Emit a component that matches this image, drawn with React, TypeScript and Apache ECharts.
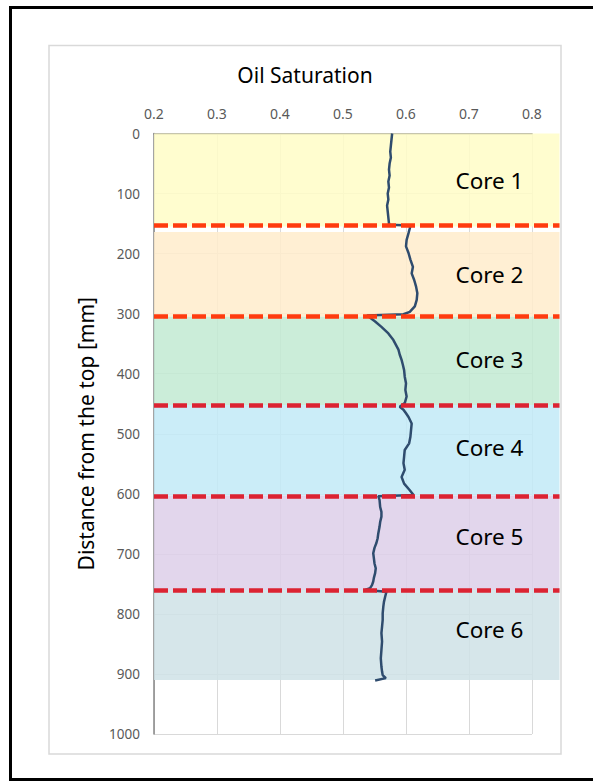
import React, { useEffect, useRef } from "react";
import * as echarts from "echarts";

const xTicks = [0.2, 0.3, 0.4, 0.5, 0.6, 0.7, 0.8];
const yTicks = [0, 100, 200, 300, 400, 500, 600, 700, 800, 900, 1000];

const coreNames = ["Core 1", "Core 2", "Core 3", "Core 4", "Core 5", "Core 6"];
const coreStart = [0, 164, 305, 452, 603, 760];
const coreEnd = [155, 305, 452, 603, 760, 910];
const coreColors = ["#FFFDC7", "#FFECCB", "#C2EAD2", "#C2EAF7", "#DDCFE9", "#CFE2E6"];

const boundaryDepths = [152, 304, 453, 604, 761];
const boundaryColors = ["#FF3B0F", "#FF3B0F", "#DC2332", "#DC2332", "#DC2332"];

const depth = [
  0, 10, 20, 30, 40, 50, 60, 70, 80, 90, 100, 110, 120, 130, 140, 150, 152,
  153, 158, 166, 177, 188, 199, 210, 222, 233, 244, 255, 266, 277, 288, 297, 301, 303,
  305, 313, 322, 333, 344, 352, 360, 368, 377, 385, 394, 405, 416, 427, 438, 449, 455,
  460, 466, 472, 483, 494, 505, 516, 527, 538, 549, 560, 572, 583, 594, 602, 604,
  610, 622, 630, 638, 647, 655, 666, 674, 682, 690, 699, 707, 716, 724, 732, 740, 746, 752, 757, 760, 763,
  771, 780, 788, 799, 810, 821, 832, 846, 860, 874, 888, 896, 902, 907, 911,
];

const saturation = [
  0.578, 0.577, 0.576, 0.575, 0.576, 0.574, 0.573, 0.574, 0.572, 0.573, 0.571, 0.572, 0.570, 0.571, 0.572, 0.573, 0.574,
  0.607, 0.606, 0.604, 0.601, 0.600, 0.604, 0.607, 0.611, 0.609, 0.613, 0.616, 0.618, 0.617, 0.614, 0.606, 0.596, 0.538,
  0.541, 0.551, 0.561, 0.572, 0.580, 0.584, 0.588, 0.590, 0.593, 0.595, 0.597, 0.598, 0.600, 0.599, 0.601, 0.598, 0.590,
  0.596, 0.600, 0.604, 0.609, 0.608, 0.607, 0.605, 0.598, 0.597, 0.596, 0.598, 0.593, 0.597, 0.606, 0.612, 0.556,
  0.558, 0.559, 0.561, 0.561, 0.559, 0.558, 0.556, 0.555, 0.553, 0.550, 0.548, 0.549, 0.550, 0.552, 0.551, 0.549, 0.548, 0.546, 0.543, 0.535, 0.569,
  0.567, 0.565, 0.564, 0.563, 0.563, 0.562, 0.561, 0.562, 0.561, 0.560, 0.561, 0.562, 0.563, 0.568, 0.551,
];

const FONT = "'Noto Sans', 'Open Sans', sans-serif";

export default function App() {
  const ref = useRef<HTMLDivElement>(null);

  useEffect(() => {
    if (!ref.current) return;
    const chart = echarts.init(ref.current, null, { renderer: "svg" });
    const lineData = depth.map((d, i) => [saturation[i], d]);
    const labelShift = [0, 0, -1, -3, -6, -5];

    chart.setOption({
      animation: false,
      backgroundColor: "#ffffff",
      textStyle: { fontFamily: FONT },
      graphic: [
        {
          type: "rect",
          z: -10,
          shape: { x: 10.5, y: 7.5, width: 600, height: 772 },
          style: { fill: "none", stroke: "#000000", lineWidth: 3 },
        },
        {
          type: "rect",
          z: -10,
          shape: { x: 49, y: 45.5, width: 512, height: 708.5 },
          style: { fill: "none", stroke: "#D9D9D9", lineWidth: 1.5 },
        },
        {
          type: "text",
          x: 305,
          y: 75,
          style: {
            text: "Oil Saturation",
            align: "center",
            verticalAlign: "middle",
            font: `21px ${FONT}`,
            fill: "#000000",
          },
        },
      ],
      grid: [
        { left: 154, right: 61, top: 133.5, bottom: 47, outerBoundsMode: "none", containLabel: false },
        { left: 154, right: 33.5, top: 133.5, bottom: 47, outerBoundsMode: "none", containLabel: false },
      ],
      xAxis: [
        {
          type: "value",
          gridIndex: 0,
          position: "top",
          min: xTicks[0],
          max: xTicks[xTicks.length - 1],
          interval: 0.1,
          axisLine: { show: true, lineStyle: { color: "#868686", width: 1.5 } },
          axisTick: { show: false },
          axisLabel: {
            margin: 13,
            color: "#595959",
            fontSize: 14,
            fontFamily: FONT,
            formatter: (v: number) => v.toFixed(1),
          },
          splitLine: { show: true, lineStyle: { color: "#D9D9D9", width: 1 } },
        },
        {
          type: "value",
          gridIndex: 1,
          min: 0.2,
          max: 0.8437,
          show: false,
        },
      ],
      yAxis: [
        {
          type: "value",
          gridIndex: 0,
          inverse: true,
          min: yTicks[0],
          max: yTicks[yTicks.length - 1],
          interval: 100,
          name: "Distance from the top [mm]",
          nameLocation: "middle",
          nameGap: 58,
          nameTextStyle: { fontSize: 21, color: "#000000", fontFamily: FONT },
          axisLine: { show: true, lineStyle: { color: "#868686", width: 1.5 } },
          axisTick: { show: false },
          axisLabel: {
            margin: 14,
            color: "#595959",
            fontSize: 13.5,
            fontFamily: FONT,
            formatter: (v: number) => String(v),
          },
          splitLine: { show: true, lineStyle: { color: "#D9D9D9", width: 1 } },
        },
        {
          type: "value",
          gridIndex: 1,
          inverse: true,
          min: 0,
          max: 1000,
          show: false,
        },
      ],
      series: [
        {
          name: "bands",
          type: "line",
          xAxisIndex: 1,
          yAxisIndex: 1,
          data: [],
          z: 1,
          silent: true,
          markArea: {
            silent: true,
            label: {
              show: true,
              position: "insideRight",
              distance: 36,
              color: "#000000",
              fontSize: 22.5,
              fontFamily: FONT,
              formatter: "{b}",
            },
            data: coreNames.map((n, i) => [
              {
                name: n,
                yAxis: coreStart[i],
                itemStyle: { color: coreColors[i], opacity: 0.85 },
                label: { offset: [0, labelShift[i]] },
              },
              { yAxis: coreEnd[i] },
            ]),
          },
        },
        {
          name: "Oil Saturation",
          type: "line",
          xAxisIndex: 0,
          yAxisIndex: 0,
          data: lineData,
          showSymbol: false,
          symbol: "none",
          z: 3,
          lineStyle: { color: "#2F4C6E", width: 2.5 },
        },
        {
          name: "boundaries",
          type: "line",
          xAxisIndex: 1,
          yAxisIndex: 1,
          data: [],
          z: 5,
          silent: true,
          markLine: {
            silent: true,
            symbol: ["none", "none"],
            label: { show: false },
            data: boundaryDepths.map((d, i) => ({
              yAxis: d,
              lineStyle: { color: boundaryColors[i], width: 4.5, type: [14, 5] },
            })),
          },
        },
      ],
    });

    return () => chart.dispose();
  }, []);

  return (
    <div
      ref={ref}
      style={{ position: "absolute", left: 0, top: 0, width: 593, height: 781 }}
    />
  );
}
